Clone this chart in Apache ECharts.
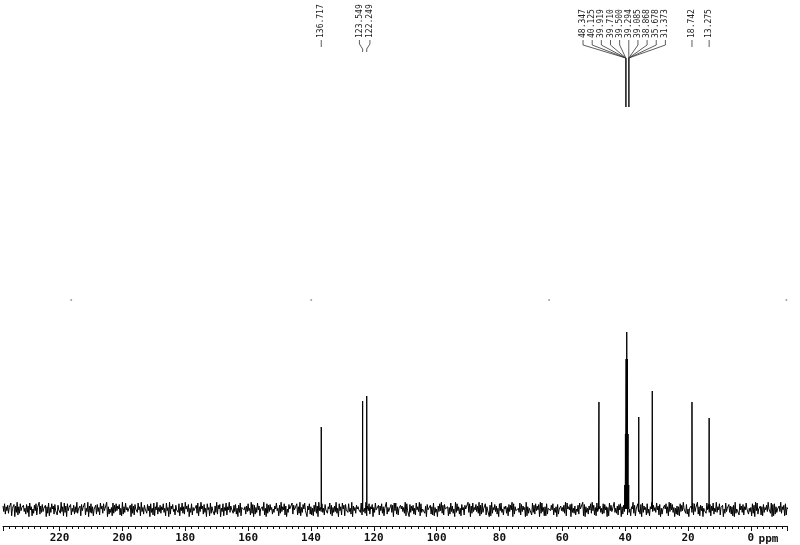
<!DOCTYPE html>
<html><head><meta charset="utf-8">
<script src="https://cdn.jsdelivr.net/npm/echarts@6/dist/echarts.min.js"></script>
<style>html,body{margin:0;padding:0;background:#fff}#c{width:800px;height:545px}</style>
</head><body><div id="c"></div>
<script>
// ---- data ----
const peakPpm    = [136.717, 123.549, 122.249, 48.347, 40.125, 39.919, 39.710, 39.500, 39.294, 39.085, 38.868, 35.678, 31.373, 18.742, 13.275];
const peakHeight = [82, 108, 113, 107, 24, 75, 150, 177, 150, 75, 24, 92, 118, 107, 91];
const peakLabels = ['136.717','123.549','122.249','48.347','40.125','39.919','39.710','39.500','39.294','39.085','38.868','35.678','31.373','18.742','13.275'];
const labelGroups = [[0], [1, 2], [3, 4, 5, 6, 7, 8, 9, 10, 11, 12], [13], [14]];
const leaderJoinPpm = [39.8, 38.85];   // where the crowded leaders merge (left / right bundle)
const axisMinPpm = -11.5;
const axisMaxPpm = 238;
const axisUnit = 'ppm';
// baseline noise: estimated upward / downward excursions per 0.5 ppm step (digits 0..9)
const noiseStartPpm = 238;
const noiseStepPpm = 0.5;
const noiseUp =
  '47352816493725164830572946153827460519384726153904' +
  '62819473056284719302857461938205746183925064718392' +
  '53718294605172839461720583946172830495617283940561' +
  '58203471965284039175620481593740628517392680473159' +
  '49271603852491738560719425308619473628054731920658' +
  '83154297064518397024615382047956132840973162509748' +
  '26495817305926417803426597301864293108574698237105' +
  '71360425983671405829631479528041763285091467358920' +
  '39507168427039528461057398621437592601487293541086' +
  '64819372508164359027463811275980436259186730493572';
const noiseDown =
  '36250819475203649185270643195840627153849207364518' +
  '20739458163705219648532078641329570418360529478163' +
  '51482960371482560394721583064918527460938271405369' +
  '48016327596418027953164028531794026137584029167835' +
  '92347150684359270814369250147358260941372580631492' +
  '67103582942671384059126784932570186359426817024953' +
  '13586407298513692470583196204731985074621953886021' +
  '74961235801945736028946152783046519823045719630748' +
  '05823694175803241796205831496783205691473068292514' +
  '82634170953046895271471063859262784130598642351870';
const artifactDotsPpm = [216.3, 139.9, 64.2, -11.3];
const artifactDotsLevel = 209;

// ---- build series ----
const spectrum = [];
for (let i = 0; i < noiseUp.length; i++) {
  const p = noiseStartPpm - i * noiseStepPpm;
  spectrum.push([p, Number(noiseUp[i]) * 0.75]);
  spectrum.push([p - noiseStepPpm / 2, -Number(noiseDown[i]) * 0.85]);
}
peakPpm.forEach((p, i) => {
  spectrum.push([p + 0.06, 0], [p, peakHeight[i]], [p - 0.06, 0]);
});
spectrum.sort((a, b) => b[0] - a[0]);

const monoFont = '"DejaVu Sans Mono", "Liberation Mono", monospace';
const chart = echarts.init(document.getElementById('c'), null, {renderer: 'canvas'});
chart.setOption({
  animation: false,
  backgroundColor: '#fff',
  grid: {left: 3, right: 13, top: 21, bottom: 19},
  xAxis: {
    type: 'value', inverse: true, min: axisMinPpm, max: axisMaxPpm, splitNumber: 12,
    axisLine: {show: true, onZero: false, lineStyle: {color: '#111', width: 1}},
    axisTick: {show: true, length: 5, lineStyle: {color: '#111', width: 1}},
    minorTick: {show: true, splitNumber: 10, length: 3, lineStyle: {color: '#111', width: 1}},
    splitLine: {show: false},
    axisLabel: {
      margin: 7, color: '#111', fontFamily: monoFont, fontWeight: 'bold', fontSize: 11,
      formatter: v => (Math.abs(v % 20) < 1e-9 ? String(v) : '')
    }
  },
  yAxis: {type: 'value', min: -17, max: 488, show: false},
  series: [
    {type: 'line', data: spectrum, showSymbol: false, symbol: 'none', clip: true,
     lineStyle: {color: '#000', width: 1}},
    {type: 'scatter', data: artifactDotsPpm.map(p => [p, artifactDotsLevel]),
     symbolSize: 2, itemStyle: {color: '#888'}}
  ]
});

// ---- peak labels and leader lines ----
const px = p => chart.convertToPixel({xAxisIndex: 0}, p);
const graphics = [];
const labelSpacing = 9.15;
const textBottom = 38;
const lineStyle = {stroke: '#333', lineWidth: 0.8, fill: null};
labelGroups.forEach(g => {
  const peakXs = g.map(i => px(peakPpm[i]));
  let center = peakXs.reduce((a, b) => a + b, 0) / g.length;
  if (g.length > 3) center -= 3.5;
  const sp = g.length === 2 ? 10.5 : labelSpacing;
  g.forEach((idx, k) => {
    const xl = center + (k - (g.length - 1) / 2) * sp;
    graphics.push({
      type: 'text', x: xl, y: textBottom, rotation: Math.PI / 2,
      style: {text: peakLabels[idx], font: '8px ' + monoFont, fill: '#222',
              textAlign: 'left', textVerticalAlign: 'middle', align: 'left', verticalAlign: 'middle'}
    });
    let pts;
    if (g.length === 1) {
      pts = [[xl, 40], [xl, 47]];
    } else if (g.length === 2) {
      pts = [[xl, 40], [xl, 44], [peakXs[k], 49], [peakXs[k], 52]];
    } else {
      const xt = px(k < g.length / 2 ? leaderJoinPpm[0] : leaderJoinPpm[1]);
      pts = [[xl, 40], [xl, 45], [xt, 58], [xt, 107]];
    }
    graphics.push({type: 'polyline', shape: {points: pts}, style: lineStyle, silent: true});
  });
});
graphics.push({
  type: 'text', x: px(-5.6), y: 539,
  style: {text: axisUnit, font: 'bold 11px ' + monoFont, fill: '#111',
          textAlign: 'center', textVerticalAlign: 'middle', align: 'center', verticalAlign: 'middle'}
});
chart.setOption({graphic: graphics});
</script>
</body></html>
